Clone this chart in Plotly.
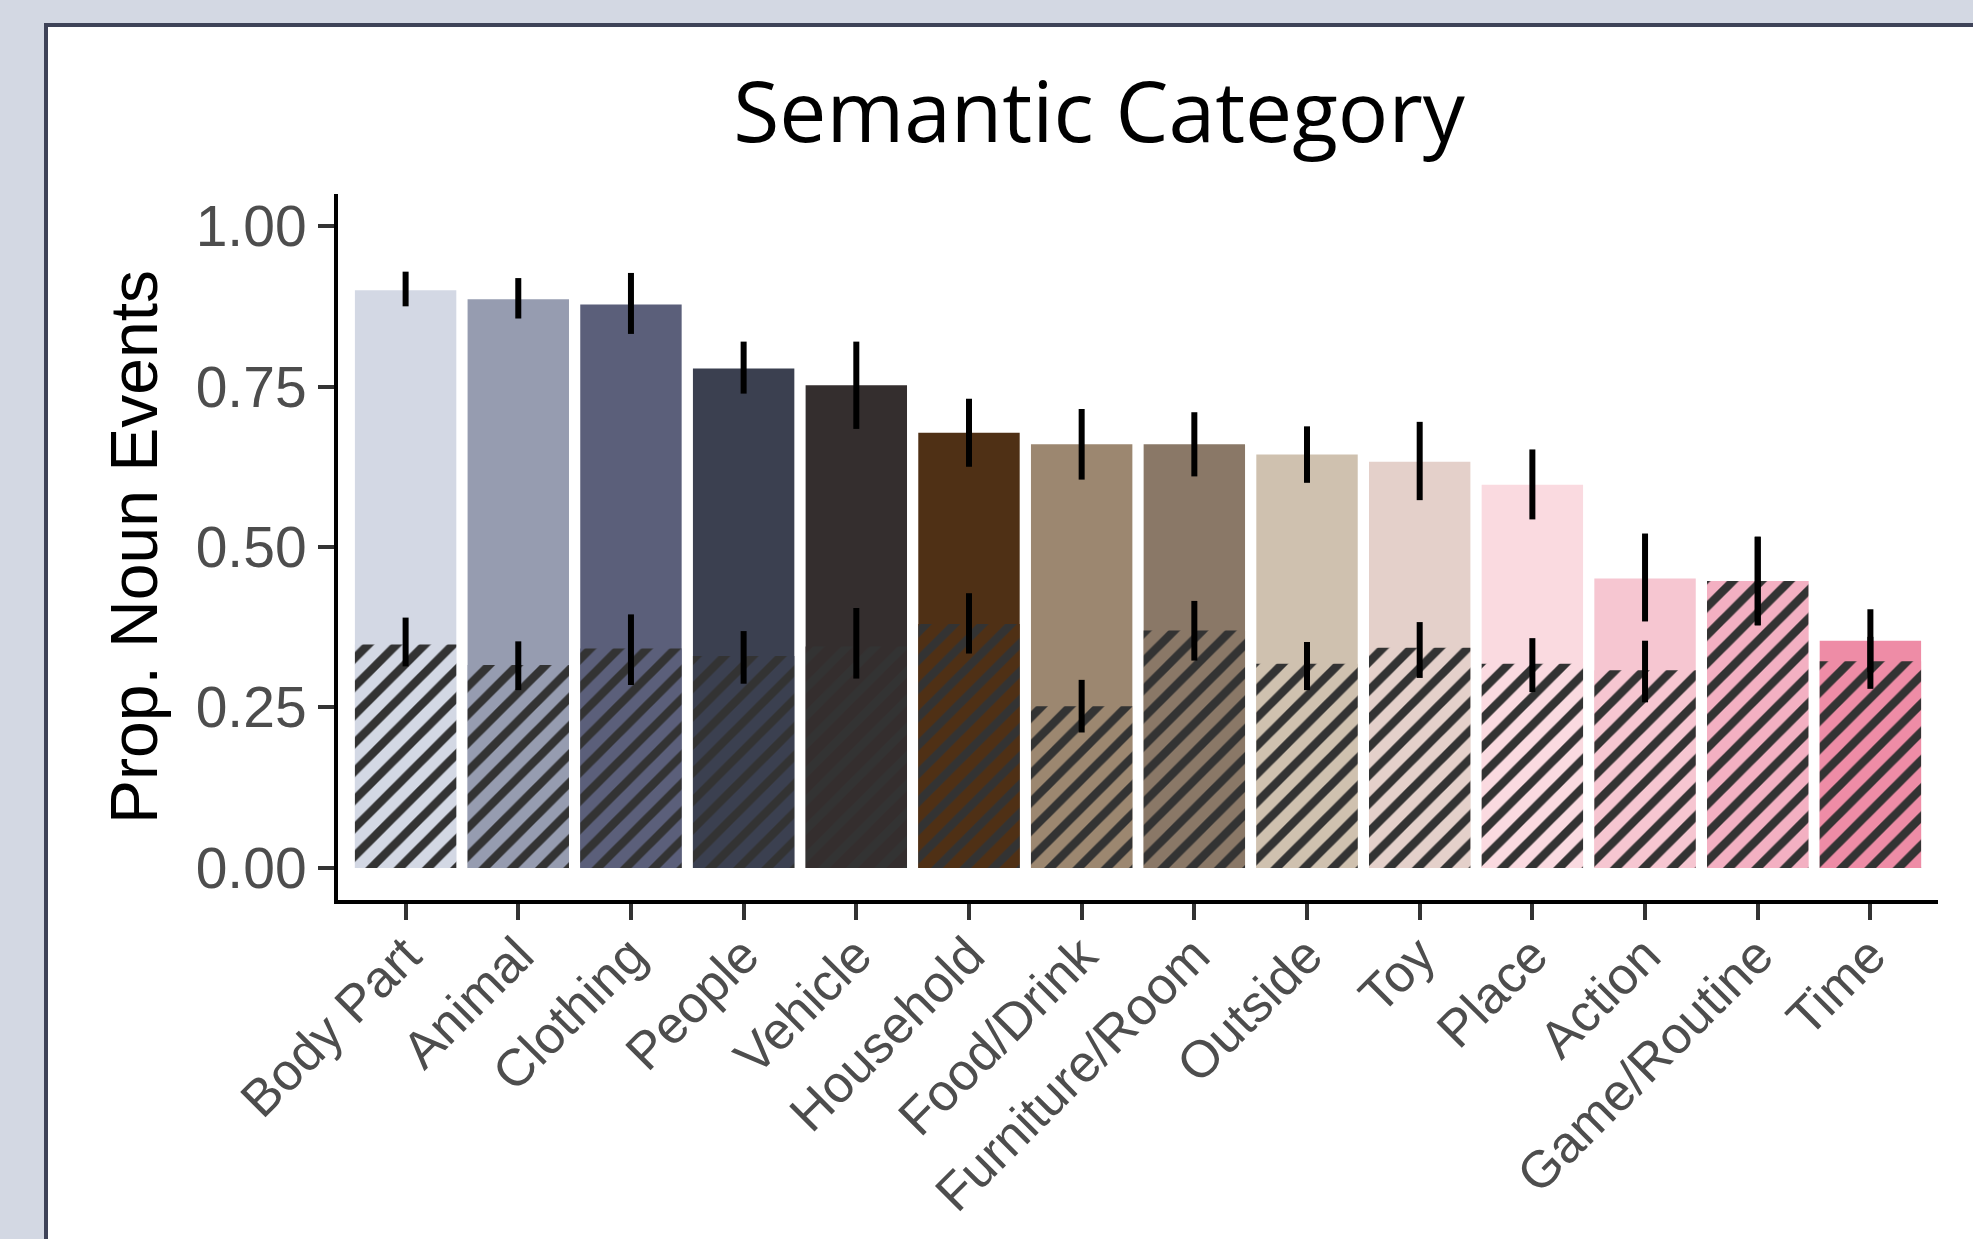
import plotly.graph_objects as go

categories = ["Body Part", "Animal", "Clothing", "People", "Vehicle", "Household",
              "Food/Drink", "Furniture/Room", "Outside", "Toy", "Place", "Action",
              "Game/Routine", "Time"]

bar_colors = ["#D3D8E4", "#969CB0", "#5B5F7A", "#3B4050", "#342E2E", "#4F3015",
              "#9C8770", "#8A7867", "#CFC1AF", "#E4D0CA", "#FADAE0", "#F6C6D1",
              "#F3B0C2", "#EE8CA6"]

# overall proportion (plain bars) with CI
all_mean = [0.900, 0.886, 0.878, 0.778, 0.752, 0.678, 0.660, 0.660, 0.644, 0.633, 0.597, 0.451, 0.447, 0.354]
all_hi   = [0.929, 0.919, 0.927, 0.820, 0.820, 0.731, 0.715, 0.710, 0.688, 0.695, 0.652, 0.521, 0.516, 0.403]
all_lo   = [0.875, 0.856, 0.832, 0.739, 0.684, 0.625, 0.605, 0.610, 0.600, 0.573, 0.543, 0.384, 0.378, 0.305]

# hatched subset with CI
sub_mean = [0.348, 0.316, 0.342, 0.330, 0.345, 0.380, 0.252, 0.370, 0.318, 0.343, 0.318, 0.308, 0.447, 0.322]
sub_hi   = [0.390, 0.353, 0.395, 0.369, 0.405, 0.428, 0.293, 0.416, 0.352, 0.383, 0.358, 0.354, 0.516, 0.360]
sub_lo   = [0.314, 0.277, 0.285, 0.287, 0.295, 0.334, 0.211, 0.323, 0.277, 0.296, 0.274, 0.258, 0.378, 0.279]

y_ticks = [0, 0.25, 0.5, 0.75, 1.0]
y_ticktext = ["0.00", "0.25", "0.50", "0.75", "1.00"]

W, H = 1973, 1239
L, R, T, B = 338, 35, 194, 339
pw, ph = W - L - R, H - T - B

def px_to_paper_x(px):
    return (px - L) / pw

def px_to_paper_y(py):
    return (H - B - py) / ph

fig = go.Figure()

fig.add_trace(go.Bar(
    x=categories, y=all_mean, width=0.9,
    marker=dict(color=bar_colors, line=dict(width=0)),
    showlegend=False, hoverinfo="skip"))

fig.add_trace(go.Bar(
    x=categories, y=sub_mean, width=0.9,
    marker=dict(color="#333333", line=dict(width=0),
                pattern=dict(shape="/", fillmode="replace",
                             fgcolor="#333333", bgcolor=bar_colors, fgopacity=1,
                             size=20, solidity=0.42)),
    showlegend=False, hoverinfo="skip"))

for mean, hi, lo in [(all_mean, all_hi, all_lo), (sub_mean, sub_hi, sub_lo)]:
    fig.add_trace(go.Scatter(
        x=categories, y=mean, mode="markers",
        marker=dict(size=1, color="rgba(0,0,0,0)"),
        error_y=dict(type="data", symmetric=False,
                     array=[h - m for h, m in zip(hi, mean)],
                     arrayminus=[m - l for m, l in zip(mean, lo)],
                     color="black", thickness=6, width=0),
        showlegend=False, hoverinfo="skip"))

# white panel with dark border
fig.add_shape(type="rect", xref="paper", yref="paper", layer="below",
              x0=px_to_paper_x(46), x1=px_to_paper_x(W + 20),
              y0=px_to_paper_y(H + 20), y1=px_to_paper_y(25),
              fillcolor="white", line=dict(color="#3E4358", width=4))

fig.update_layout(
    width=W, height=H,
    margin=dict(l=L, r=R, t=T, b=B, autoexpand=False),
    paper_bgcolor="#D3D8E3", plot_bgcolor="white",
    barmode="overlay", bargap=0.1,
    title=dict(text="Semantic Category", xref="container", yref="container",
               x=1099 / W, y=1 - 113 / H, xanchor="center", yanchor="middle",
               font=dict(family="Open Sans", size=84, color="black")),
    showlegend=False,
)

fig.update_xaxes(
    range=[-0.6, 13.6], showgrid=False, zeroline=False,
    showline=True, linecolor="black", linewidth=4,
    ticks="outside", ticklen=16, tickwidth=4, tickcolor="#333333",
    tickangle=-45, ticklabelstandoff=-16,
    tickfont=dict(family="Liberation Sans", size=52, color="#4D4D4D"),
)
fig.update_yaxes(
    range=[-0.05, 1.05], showgrid=False, zeroline=False,
    showline=True, linecolor="black", linewidth=4,
    ticks="outside", ticklen=16, tickwidth=4, tickcolor="#333333",
    tickvals=y_ticks, ticktext=y_ticktext,
    tickfont=dict(family="Liberation Sans", size=57, color="#4D4D4D"),
    title=dict(text="Prop. Noun Events", standoff=18,
               font=dict(family="Liberation Sans", size=66, color="black")),
)

fig.write_html("out.html", config={"displayModeBar": False},
               post_script="document.body.style.margin='0px';document.body.style.overflow='hidden';")
